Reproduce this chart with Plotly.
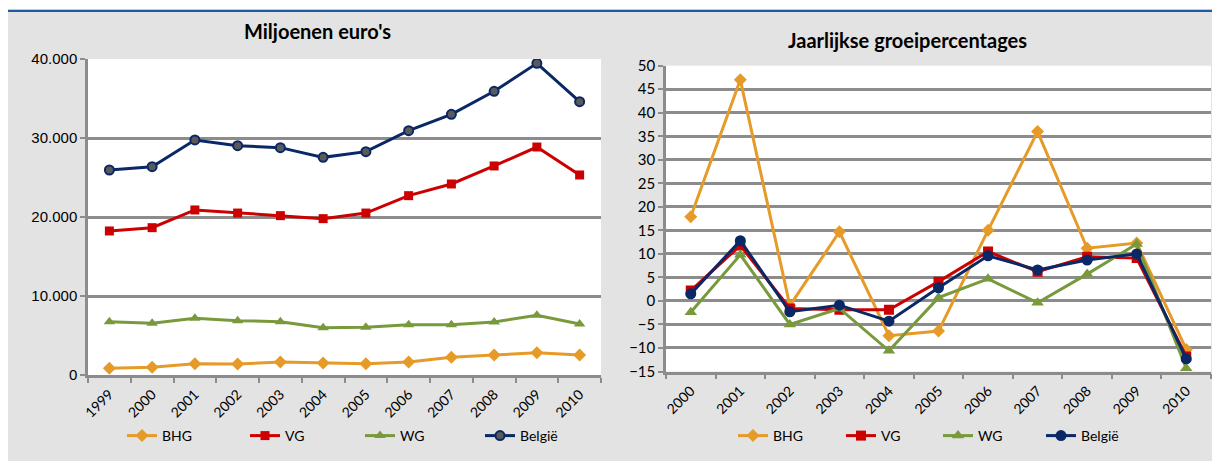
import plotly.graph_objects as go

# ---------------- data ----------------
years_abs = ["1999", "2000", "2001", "2002", "2003", "2004", "2005", "2006", "2007", "2008", "2009", "2010"]
bhg_abs = [840, 970, 1430, 1390, 1650, 1520, 1430, 1650, 2240, 2530, 2830, 2530]
vg_abs = [18230, 18650, 20890, 20500, 20170, 19790, 20500, 22700, 24180, 26460, 28860, 25320]
wg_abs = [6750, 6540, 7170, 6880, 6750, 5990, 6030, 6370, 6370, 6710, 7550, 6460]
be_abs = [25950, 26370, 29750, 29030, 28780, 27550, 28270, 30930, 33000, 35910, 39450, 34600]

years_pct = ["2000", "2001", "2002", "2003", "2004", "2005", "2006", "2007", "2008", "2009", "2010"]
bhg_pct = [17.9, 47.0, -1.0, 14.7, -7.4, -6.4, 15.0, 36.0, 11.2, 12.3, -10.3]
vg_pct = [2.2, 11.8, -1.6, -1.9, -1.9, 4.1, 10.5, 6.2, 9.4, 9.1, -11.8]
wg_pct = [-2.4, 9.8, -5.0, -1.6, -10.6, 0.7, 4.7, -0.4, 5.7, 12.1, -14.3]
be_pct = [1.5, 12.8, -2.3, -0.9, -4.3, 2.8, 9.6, 6.6, 8.7, 10.0, -12.3]

series_names = ["BHG", "VG", "WG", "België"]
left_title = "Miljoenen euro's"
right_title = "Jaarlijkse groeipercentages"

# ---------------- style ----------------
OFF = 8  # page body margin
W, H = 1220 - OFF, 461 - OFF
C_BHG = "#E69A28"
C_VG = "#CC0000"
C_WG = "#789A3C"
C_BE = "#0A2866"
GRID = "#8C8C8C"
BG = "#E3E3E3"
FONT = "Lato"


def px_x(p):
    return (p - OFF) / W


def px_y(p):
    return 1 - (p - OFF) / H


fig = go.Figure()

legend_left_centers = [142, 265, 380, 500]
legend_right_centers = [753, 861, 958, 1061]
legend_defs = {}

styles = [
    (C_BHG, "diamond", C_BHG, 10),
    (C_VG, "square", C_VG, 9),
    (C_WG, "triangle-up", C_WG, 10),
    (C_BE, "circle", "#5A5A5A", 9),
]
for i, (name, vals, (col, sym, fill, size)) in enumerate(zip(series_names, [bhg_abs, vg_abs, wg_abs, be_abs], styles)):
    lg = "legend" if i == 0 else "legend%d" % (i + 1)
    legend_defs[lg] = legend_left_centers[i]
    fig.add_trace(go.Scatter(
        x=years_abs, y=vals, name=name, mode="lines+markers",
        line=dict(color=col, width=3),
        marker=dict(symbol=sym, size=size, color=fill, line=dict(color=col, width=2 if name == "België" else 0)),
        xaxis="x", yaxis="y", legend=lg,
    ))

styles_r = [
    (C_BHG, "diamond", 10),
    (C_VG, "square", 10),
    (C_WG, "triangle-up", 11),
    (C_BE, "circle", 11),
]
for i, (name, vals, (col, sym, size)) in enumerate(zip(series_names, [bhg_pct, vg_pct, wg_pct, be_pct], styles_r)):
    lg = "legend%d" % (i + 5)
    legend_defs[lg] = legend_right_centers[i]
    fig.add_trace(go.Scatter(
        x=years_pct, y=vals, name=name, mode="lines+markers",
        line=dict(color=col, width=3),
        marker=dict(symbol=sym, size=size, color=col),
        xaxis="x2", yaxis="y2", legend=lg,
    ))

axis_common = dict(showline=True, linecolor=GRID, linewidth=2.5, ticks="outside",
                   ticklen=5, tickwidth=2, tickcolor=GRID, zeroline=False, automargin=False)

legend_layout = {}
for lg, cx in legend_defs.items():
    legend_layout[lg] = dict(orientation="h", x=px_x(cx - 20), xanchor="left", y=px_y(436), yanchor="middle",
                             bgcolor="rgba(0,0,0,0)", font=dict(family=FONT, size=14), borderwidth=0)

fig.update_layout(
    width=W, height=H,
    margin=dict(l=0, r=0, t=0, b=0, pad=0),
    paper_bgcolor=BG,
    plot_bgcolor="white",
    separators=",.",
    font=dict(family=FONT, size=13, color="#000000"),
    xaxis=dict(domain=[px_x(88), px_x(601)], anchor="y", type="category",
               tickson="boundaries", tickangle=-45, showgrid=False, ticklabelstandoff=3,
               tickfont=dict(family=FONT, size=14), range=[-0.5, 11.5], **axis_common),
    yaxis=dict(domain=[px_y(375), px_y(59)], anchor="x", range=[0, 40000], dtick=10000,
               tickformat=",d", showgrid=True, gridcolor=GRID, gridwidth=2.5,
               tickfont=dict(family="Liberation Sans", size=15), **axis_common),
    xaxis2=dict(domain=[px_x(666), px_x(1211)], anchor="y2", type="category",
                tickson="boundaries", tickangle=-45, showgrid=False, ticklabelstandoff=3,
                tickfont=dict(family=FONT, size=14), range=[-0.5, 10.5], **axis_common),
    yaxis2=dict(domain=[px_y(371.5), px_y(65.7)], anchor="x2", range=[-15, 50], dtick=5,
                showgrid=True, gridcolor=GRID, gridwidth=2.5,
                tickfont=dict(family=FONT, size=15), **axis_common),
    showlegend=True,
    annotations=[
        dict(text="<b>" + left_title + "</b>", x=px_x(317), y=px_y(31), xref="paper", yref="paper",
             showarrow=False, xanchor="center", yanchor="middle", font=dict(family=FONT, size=20)),
        dict(text="<b>" + right_title + "</b>", x=px_x(907), y=px_y(40), xref="paper", yref="paper",
             showarrow=False, xanchor="center", yanchor="middle", font=dict(family=FONT, size=20)),
    ],
    shapes=[
        dict(type="rect", xref="paper", yref="paper", x0=0, x1=1, y0=px_y(9.5), y1=1,
             fillcolor="white", line=dict(width=0), layer="below"),
        dict(type="line", xref="paper", yref="paper", x0=0, x1=1, y0=px_y(10.8), y1=px_y(10.8),
             line=dict(color="#1F5AA6", width=2.2), layer="above"),
    ],
    **legend_layout,
)

fig.write_html("out.html")
